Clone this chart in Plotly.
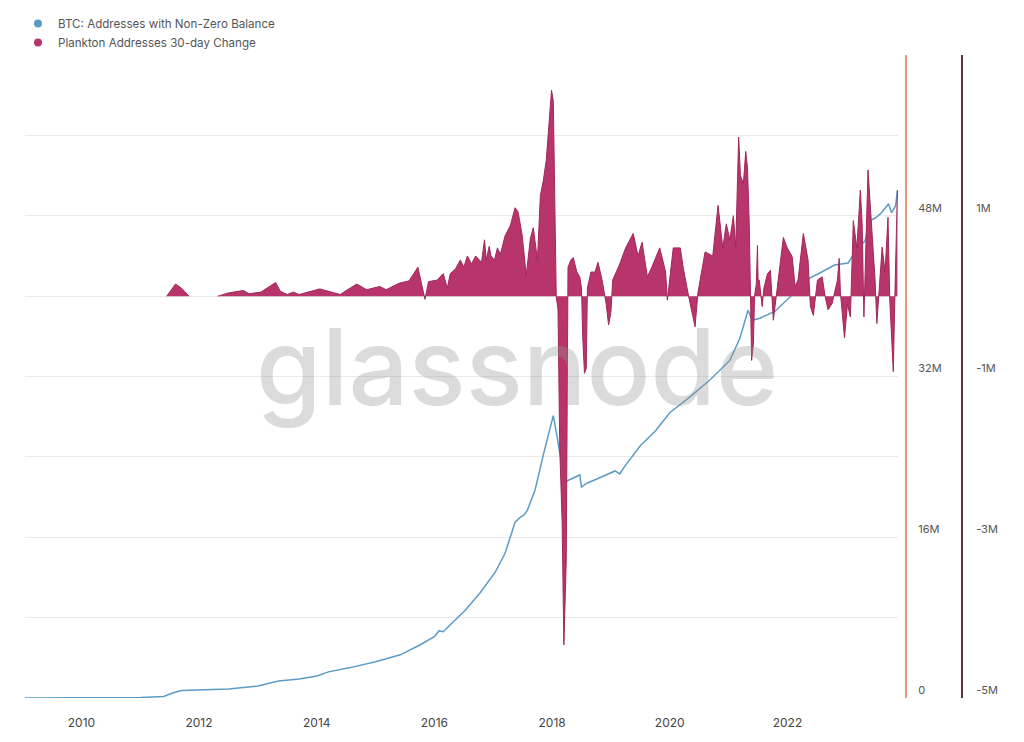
import pandas as pd
import plotly.graph_objects as go

# ---------------- data (decimal years, values in millions) ----------------
btc_years = [2009.04, 2010.0, 2011.0, 2011.4, 2011.55, 2011.7, 2012.0, 2012.5, 2013.0, 2013.35,
             2013.7, 2014.0, 2014.2, 2014.55, 2015.0, 2015.42, 2015.76, 2016.0, 2016.08, 2016.15,
             2016.27, 2016.52, 2016.78, 2017.03, 2017.2, 2017.37, 2017.46, 2017.52, 2017.58, 2017.71,
             2017.85, 2017.97, 2018.02, 2018.07, 2018.13, 2018.2, 2018.25, 2018.4, 2018.47, 2018.5,
             2018.6, 2018.8, 2019.07, 2019.15, 2019.24, 2019.5, 2019.76, 2020.0, 2020.2, 2020.35,
             2020.69, 2021.02, 2021.19, 2021.33, 2021.4, 2021.53, 2021.79, 2022.04, 2022.38, 2022.55,
             2022.8, 2023.03, 2023.2, 2023.32, 2023.4, 2023.5, 2023.6, 2023.72, 2023.77, 2023.84,
             2023.87]
btc_values = [0.0, 0.02, 0.05, 0.15, 0.5, 0.75, 0.8, 0.9, 1.2, 1.7,
              1.9, 2.2, 2.6, 3.0, 3.6, 4.3, 5.3, 6.1, 6.7, 6.6,
              7.3, 8.7, 10.5, 12.5, 14.4, 17.5, 18.0, 18.2, 18.7, 20.7,
              24.2, 27.1, 28.1, 26.5, 24.5, 22.0, 21.6, 22.0, 22.2, 21.0,
              21.4, 21.9, 22.6, 22.3, 23.1, 25.1, 26.6, 28.4, 29.3, 30.0,
              31.7, 33.6, 35.8, 38.6, 37.6, 37.8, 38.5, 39.9, 41.8, 42.3,
              43.1, 43.3, 44.8, 45.5, 47.5, 47.8, 48.3, 49.2, 48.3, 49.0,
              50.5]

plankton_years = [2011.45, 2011.6, 2011.7, 2011.83, None,
                  2012.32, 2012.5, 2012.75, 2012.85, 2013.05, 2013.3, 2013.38, 2013.5, 2013.6, 2013.7,
                  2013.95, 2014.05, 2014.3, 2014.4, 2014.5, 2014.68, 2014.85, 2015.07, 2015.18, 2015.4,
                  2015.57, 2015.72, 2015.78, 2015.84, 2015.9, 2016.05, 2016.15, 2016.22, 2016.27, 2016.36,
                  2016.44, 2016.5, 2016.56, 2016.63, 2016.7, 2016.8, 2016.85, 2016.88, 2016.93, 2016.96,
                  2017.02, 2017.07, 2017.12, 2017.2, 2017.29, 2017.37, 2017.42, 2017.49, 2017.56, 2017.63,
                  2017.68, 2017.75, 2017.8, 2017.85, 2017.9, 2017.95, 2017.99, 2018.02, 2018.05, 2018.07,
                  2018.1, 2018.13, 2018.17, 2018.2, 2018.24,
                  2018.27, 2018.32, 2018.36, 2018.42, 2018.47, 2018.5, 2018.52, 2018.55, 2018.58, 2018.6,
                  2018.66, 2018.73, 2018.78, 2018.85, 2018.92, 2018.96, 2019.0, 2019.03, 2019.15, 2019.25,
                  2019.38, 2019.46, 2019.53, 2019.62, 2019.69, 2019.83, 2019.93, 2019.96, 2020.06, 2020.18,
                  2020.23, 2020.32, 2020.38, 2020.43, 2020.48, 2020.6, 2020.73, 2020.82, 2020.9, 2020.96,
                  2021.02, 2021.08, 2021.12, 2021.14, 2021.17, 2021.2, 2021.25, 2021.29, 2021.32, 2021.35,
                  2021.37, 2021.39, 2021.42, 2021.44, 2021.47, 2021.49, 2021.5, 2021.52, 2021.57, 2021.6,
                  2021.66, 2021.71, 2021.76, 2021.84, 2021.93, 2021.99, 2022.08, 2022.13, 2022.18, 2022.27,
                  2022.35, 2022.39, 2022.44, 2022.51, 2022.59, 2022.64, 2022.69, 2022.76, 2022.85, 2022.88,
                  2022.9, 2022.97, 2023.02, 2023.07, 2023.12, 2023.18, 2023.24, 2023.27, 2023.3, 2023.37,
                  2023.44, 2023.49, 2023.52, 2023.61, 2023.66, 2023.71, 2023.74, 2023.78, 2023.8, 2023.83,
                  2023.87]
plankton_values = [0.0, 0.15, 0.1, 0.0, None,
                   0.0, 0.04, 0.07, 0.03, 0.05, 0.17, 0.06, 0.02, 0.05, 0.02,
                   0.07, 0.09, 0.04, 0.02, 0.07, 0.15, 0.08, 0.12, 0.08, 0.16,
                   0.19, 0.36, 0.16, -0.04, 0.18, 0.2, 0.28, 0.1, 0.28, 0.34,
                   0.45, 0.36, 0.5, 0.4, 0.5, 0.42, 0.7, 0.45, 0.62, 0.5,
                   0.45, 0.6, 0.52, 0.75, 0.88, 1.1, 1.05, 0.76, 0.26, 0.72,
                   0.85, 0.45, 1.25, 1.44, 1.69, 2.25, 2.56, 2.43, 1.07, 0.0,
                   -0.17, -1.9, -2.8, -4.34, -3.3,
                   0.36, 0.45, 0.48, 0.3, 0.24, 0.1, -0.5, -0.96, -0.9, 0.1,
                   0.3, 0.3, 0.42, 0.2, -0.1, -0.36, -0.2, 0.2, 0.4, 0.6,
                   0.78, 0.5, 0.67, 0.24, 0.35, 0.6, 0.3, -0.05, 0.6, 0.6,
                   0.35, 0.0, -0.2, -0.38, 0.05, 0.55, 0.5, 1.13, 0.6, 0.9,
                   0.7, 1.0, 0.61, 1.19, 1.98, 1.5, 1.4, 1.8, 1.6, 0.9,
                   0.0, -0.8, -0.6, 0.0, 0.15, 0.63, 0.2, 0.2, -0.13, 0.1,
                   0.28, 0.32, -0.3, 0.16, 0.73, 0.61, 0.49, 0.12, 0.2, 0.78,
                   0.45, -0.13, -0.24, 0.2, 0.24, 0.0, -0.17, -0.09, 0.2, 0.47,
                   0.05, -0.52, -0.1, -0.26, 0.94, 0.6, 1.32, 0.9, -0.26, 1.57,
                   0.78, 0.2, -0.34, 0.61, 0.3, 0.98, -0.05, -0.67, -0.94, 0.1,
                   1.32]

x_tick_years = [2010, 2012, 2014, 2016, 2018, 2020, 2022]
left_tick_values = [0, 16, 32, 48]
left_tick_text = ["0", "16M", "32M", "48M"]
right_tick_values = [-5, -3, -1, 1]
right_tick_text = ["-5M", "-3M", "-1M", "1M"]

BLUE = "#5b9cc6"
MAROON_FILL = "#b8356b"
MAROON_LINE = "#a0285a"
ORANGE_AXIS = "#e59a7e"
DARK_AXIS = "#5a3445"
FONT = "Inter"


def to_date(y):
    if y is None:
        return None
    year = int(y)
    start = pd.Timestamp(year=year, month=1, day=1)
    end = pd.Timestamp(year=year + 1, month=1, day=1)
    return start + (end - start) * (y - year)


btc_dates = [to_date(v) for v in btc_years]
btc_abs = [v * 1e6 for v in btc_values]
plankton_dates = [to_date(v) for v in plankton_years]
plankton_abs = [None if v is None else v * 1e6 for v in plankton_values]

fig = go.Figure()

fig.add_trace(go.Scatter(
    x=btc_dates, y=btc_abs, mode="lines", yaxis="y",
    line=dict(color=BLUE, width=1.5), showlegend=False,
    name="BTC: Addresses with Non-Zero Balance",
))
fig.add_trace(go.Scatter(
    x=plankton_dates, y=plankton_abs, mode="lines", yaxis="y2",
    line=dict(color=MAROON_LINE, width=1), fill="tozeroy", fillcolor=MAROON_FILL,
    connectgaps=False, showlegend=False,
    name="Plankton Addresses 30-day Change",
))
# legend entries (circle markers)
fig.add_trace(go.Scatter(x=[None], y=[None], mode="markers", yaxis="y",
                         marker=dict(color=BLUE, size=8),
                         name="BTC: Addresses with Non-Zero Balance"))
fig.add_trace(go.Scatter(x=[None], y=[None], mode="markers", yaxis="y2",
                         marker=dict(color=MAROON_FILL, size=8),
                         name="Plankton Addresses 30-day Change"))

W, H = 1024, 742
ML, MR, MT, MB = 25, 20, 55, 44
plot_w = W - ML - MR
plot_h = H - MT - MB

fig.update_layout(
    width=W, height=H,
    margin=dict(l=ML, r=MR, t=MT, b=MB, pad=0, autoexpand=False),
    paper_bgcolor="white", plot_bgcolor="white",
    font=dict(family=FONT, size=11, color="#555555"),
    showlegend=True,
    legend=dict(x=-7 / plot_w, y=1 + 46 / plot_h, xanchor="left", yanchor="top",
                orientation="v", bgcolor="rgba(0,0,0,0)",
                font=dict(family=FONT, size=11.6, color="#555555"),
                itemwidth=30, tracegroupgap=0),
    xaxis=dict(
        type="date", domain=[0, (898 - ML) / plot_w],
        range=[to_date(2009.04), to_date(2023.88)],
        tickvals=[pd.Timestamp(year=y, month=1, day=1) for y in x_tick_years],
        ticktext=[str(y) for y in x_tick_years],
        showgrid=False, showline=False, zeroline=False,
        ticks="outside", ticklen=14, tickcolor="rgba(0,0,0,0)",
        tickfont=dict(family=FONT, size=12, color="#444444"),
    ),
    yaxis=dict(
        side="right", anchor="free", position=(906 - ML) / plot_w,
        range=[0, 64e6],
        tickvals=[v * 1e6 for v in left_tick_values], ticktext=left_tick_text,
        showgrid=True, gridcolor="#e9e9e9", gridwidth=1,
        minor=dict(dtick=8e6, showgrid=True, gridcolor="#e9e9e9", gridwidth=1),
        zeroline=False,
        showline=True, linecolor=ORANGE_AXIS, linewidth=2,
        ticks="outside", ticklen=9, tickcolor="rgba(0,0,0,0)",
        ticklabelshift=-8,
        tickfont=dict(family=FONT, size=11, color="#555555"),
    ),
    yaxis2=dict(
        overlaying="y", side="right", anchor="free", position=(962 - ML) / plot_w,
        range=[-5e6, 3e6],
        tickvals=[v * 1e6 for v in right_tick_values], ticktext=right_tick_text,
        showgrid=False, zeroline=False,
        showline=True, linecolor=DARK_AXIS, linewidth=2,
        ticks="outside", ticklen=11, tickcolor="rgba(0,0,0,0)",
        ticklabelshift=-8,
        tickfont=dict(family=FONT, size=11, color="#555555"),
    ),
    annotations=[dict(
        text="glassnode", xref="paper", yref="paper",
        x=(517 - ML) / plot_w, y=(H - MB - 366) / plot_h,
        xanchor="center", yanchor="middle", showarrow=False,
        font=dict(family=FONT, size=106, weight=500, color="rgba(150,150,150,0.34)"),
    )],
)

fig.write_html("out.html")
